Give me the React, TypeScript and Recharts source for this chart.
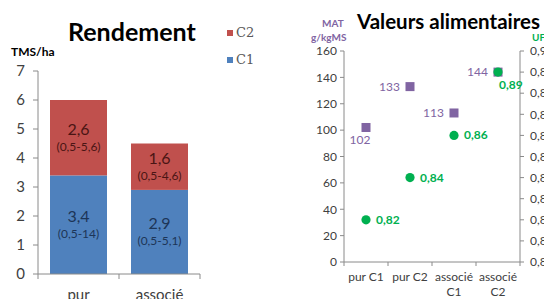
import { BarChart, Bar, ComposedChart, Scatter, XAxis, YAxis } from 'recharts'

const yieldCats = ['pur', 'associé']
const yieldC1 = [3.4, 2.9]
const yieldC2 = [2.6, 1.6]
const rangeC1 = ['(0,5-14)', '(0,5-5,1)']
const rangeC2 = ['(0,5-5,6)', '(0,5-4,6)']
const yieldTicks = [0, 1, 2, 3, 4, 5, 6, 7]

const feedCats = ['pur C1', 'pur C2', 'associé C1', 'associé C2']
const matValues = [102, 133, 113, 144]
const ufValues = [0.82, 0.84, 0.86, 0.89]
const matTicks = [0, 20, 40, 60, 80, 100, 120, 140, 160]
const ufTicks = [0.8, 0.81, 0.82, 0.83, 0.84, 0.85, 0.86, 0.87, 0.88, 0.89, 0.9]

const RED = '#c0504d'
const BLUE = '#4f81bd'
const PURPLE = '#8064a2'
const GREEN = '#00b050'
const AXIS = '#8a8a8a'
const TEXT = '#404040'
const FONT = 'Lato, "Noto Sans", sans-serif'

// label placement per point (style, not data)
const matLabelPos = ['below', 'left', 'left', 'left']
const ufLabelPos = ['right', 'right', 'right', 'below']

const fmt = (v: number) => String(v).replace('.', ',')

const yieldData = yieldCats.map((cat, i) => ({
  cat,
  c1: yieldC1[i],
  c2: yieldC2[i],
  r1: rangeC1[i],
  r2: rangeC2[i],
}))

const feedData = feedCats.map((cat, i) => ({ cat, mat: matValues[i], uf: ufValues[i], idx: i }))

const makeBarShape = (key: 'c1' | 'c2', rangeKey: 'r1' | 'r2', fill: string, textColor: string) =>
  (props: any) => {
    const { x, y, width, height, payload } = props
    const cx = x + width / 2
    const cy = y + height / 2
    return (
      <g>
        <rect x={x} y={y} width={width} height={height} fill={fill} />
        <text x={cx} y={cy - 3} textAnchor="middle" fontSize={16} fill={textColor} fontFamily={FONT}>
          {fmt(payload[key])}
        </text>
        <text x={cx} y={cy + 13} textAnchor="middle" fontSize={12} fill={textColor} fontFamily={FONT}>
          {payload[rangeKey]}
        </text>
      </g>
    )
  }

const YieldTick = (props: any) => {
  const { x, y, payload, index } = props
  const half = 40.5
  return (
    <g>
      <line x1={x - half} y1={y} x2={x - half} y2={y + 5} stroke={AXIS} />
      {index === yieldCats.length - 1 && <line x1={x + half} y1={y} x2={x + half} y2={y + 5} stroke={AXIS} />}
      <text x={x} y={y + 26} textAnchor="middle" fontSize={15} fill={TEXT} fontFamily={FONT}>
        {payload.value}
      </text>
    </g>
  )
}

const FeedTick = (props: any) => {
  const { x, y, payload, index } = props
  const half = 22
  const words = String(payload.value).split(' ')
  const lines = words[0] === 'pur' ? [payload.value] : words
  return (
    <g>
      <line x1={x - half} y1={y} x2={x - half} y2={y + 4} stroke={AXIS} />
      {index === feedCats.length - 1 && <line x1={x + half} y1={y} x2={x + half} y2={y + 4} stroke={AXIS} />}
      {lines.map((l: string, i: number) => (
        <text key={i} x={x} y={y + 19 + i * 15} textAnchor="middle" fontSize={12} fill={TEXT} fontFamily={FONT}>
          {l}
        </text>
      ))}
    </g>
  )
}

const MatShape = (props: any) => {
  const { cx, cy, payload } = props
  const pos = matLabelPos[payload.idx]
  const s = 9
  let lx = cx - 10
  let ly = cy + 4
  let anchor = 'end'
  if (pos === 'below') {
    lx = cx - 6
    ly = cy + 17
    anchor = 'middle'
  }
  return (
    <g>
      <rect x={cx - s / 2} y={cy - s / 2} width={s} height={s} fill={PURPLE} />
      <text x={lx} y={ly} textAnchor={anchor as any} fontSize={12} fill={PURPLE} fontFamily={FONT}>
        {payload.mat}
      </text>
    </g>
  )
}

const UfShape = (props: any) => {
  const { cx, cy, payload } = props
  const pos = ufLabelPos[payload.idx]
  let lx = cx + 10
  let ly = cy + 4
  if (pos === 'below') {
    lx = cx + 1
    ly = cy + 17
  }
  return (
    <g>
      <circle cx={cx} cy={cy} r={4.6} fill={GREEN} />
      <text x={lx} y={ly} fontSize={12} fontWeight={700} fill={GREEN} fontFamily={FONT}>
        {fmt(payload.uf)}
      </text>
    </g>
  )
}

export default function App() {
  return (
    <div style={{ position: 'absolute', left: 0, top: 0, width: 544, height: 299, overflow: 'hidden', background: '#fff', fontFamily: FONT }}>
      {/* left: Rendement */}
      <div style={{ position: 'absolute', left: 0, top: 0 }}>
        <BarChart width={272} height={299} data={yieldData} margin={{ top: 71, right: 72, bottom: 0, left: 0 }} barSize={57}>
          <XAxis dataKey="cat" height={25} axisLine={{ stroke: AXIS }} tickLine={false} tickSize={0} tickMargin={0} tick={<YieldTick />} interval={0} />
          <YAxis
            width={38}
            domain={[0, 7]}
            ticks={yieldTicks}
            interval={0}
            axisLine={{ stroke: AXIS }}
            tickLine={{ stroke: AXIS }}
            tickSize={5}
            tickMargin={8}
            tick={{ fontSize: 15, fill: TEXT, fontFamily: FONT }}
          />
          <Bar dataKey="c1" stackId="a" fill={BLUE} isAnimationActive={false} shape={makeBarShape('c1', 'r1', BLUE, '#1d3557')} />
          <Bar dataKey="c2" stackId="a" fill={RED} isAnimationActive={false} shape={makeBarShape('c2', 'r2', RED, '#4a1514')} />
        </BarChart>
        <div style={{ position: 'absolute', left: 68, top: 16, fontSize: 25, fontWeight: 700, color: '#000' }}>Rendement</div>
        <div style={{ position: 'absolute', left: 11, top: 44, fontSize: 12, fontWeight: 700, color: '#000' }}>TMS/ha</div>
        <div style={{ position: 'absolute', left: 227, top: 25, fontSize: 13, color: '#595959', fontFamily: '"DejaVu Serif", serif', lineHeight: '16px' }}>
          <div style={{ display: 'flex', alignItems: 'center' }}>
            <span style={{ width: 6, height: 6, background: RED, marginRight: 3, display: 'inline-block' }} />C2
          </div>
          <div style={{ display: 'flex', alignItems: 'center', marginTop: 11 }}>
            <span style={{ width: 6, height: 6, background: BLUE, marginRight: 3, display: 'inline-block' }} />C1
          </div>
        </div>
      </div>

      {/* right: Valeurs alimentaires */}
      <div style={{ position: 'absolute', left: 272, top: 0 }}>
        <ComposedChart width={272} height={299} data={feedData} margin={{ top: 51, right: 0, bottom: 0, left: 0 }}>
          <XAxis dataKey="cat" type="category" scale="band" height={37} axisLine={{ stroke: AXIS }} tickLine={false} tickSize={0} tickMargin={0} tick={<FeedTick />} interval={0} />
          <YAxis
            yAxisId="mat"
            width={72}
            domain={[0, 160]}
            ticks={matTicks}
            interval={0}
            axisLine={{ stroke: AXIS }}
            tickLine={{ stroke: AXIS }}
            tickSize={4}
            tickMargin={3}
            tick={{ fontSize: 12, fill: TEXT, fontFamily: FONT }}
          />
          <YAxis
            yAxisId="uf"
            orientation="right"
            width={24}
            domain={[0.8, 0.9]}
            ticks={ufTicks}
            interval={0}
            axisLine={{ stroke: AXIS }}
            tickLine={{ stroke: AXIS }}
            tickSize={4}
            tickMargin={6}
            tickFormatter={(v: number) => v.toFixed(2).replace('.', ',')}
            tick={{ fontSize: 12, fill: TEXT, fontFamily: FONT, textAnchor: 'start' }}
          />
          <Scatter yAxisId="mat" dataKey="mat" isAnimationActive={false} shape={<MatShape />} />
          <Scatter yAxisId="uf" dataKey="uf" isAnimationActive={false} shape={<UfShape />} />
        </ComposedChart>
        <div style={{ position: 'absolute', left: 85, top: 9, fontSize: 20.5, fontWeight: 700, color: '#000', whiteSpace: 'nowrap' }}>Valeurs alimentaires</div>
        <div style={{ position: 'absolute', left: 50, top: 17, fontSize: 10, fontWeight: 700, color: PURPLE }}>MAT</div>
        <div style={{ position: 'absolute', left: 39, top: 31, fontSize: 10, fontWeight: 700, color: PURPLE }}>g/kgMS</div>
        <div style={{ position: 'absolute', left: 260, top: 31, fontSize: 10, fontWeight: 700, color: GREEN }}>UF</div>
      </div>
    </div>
  )
}
